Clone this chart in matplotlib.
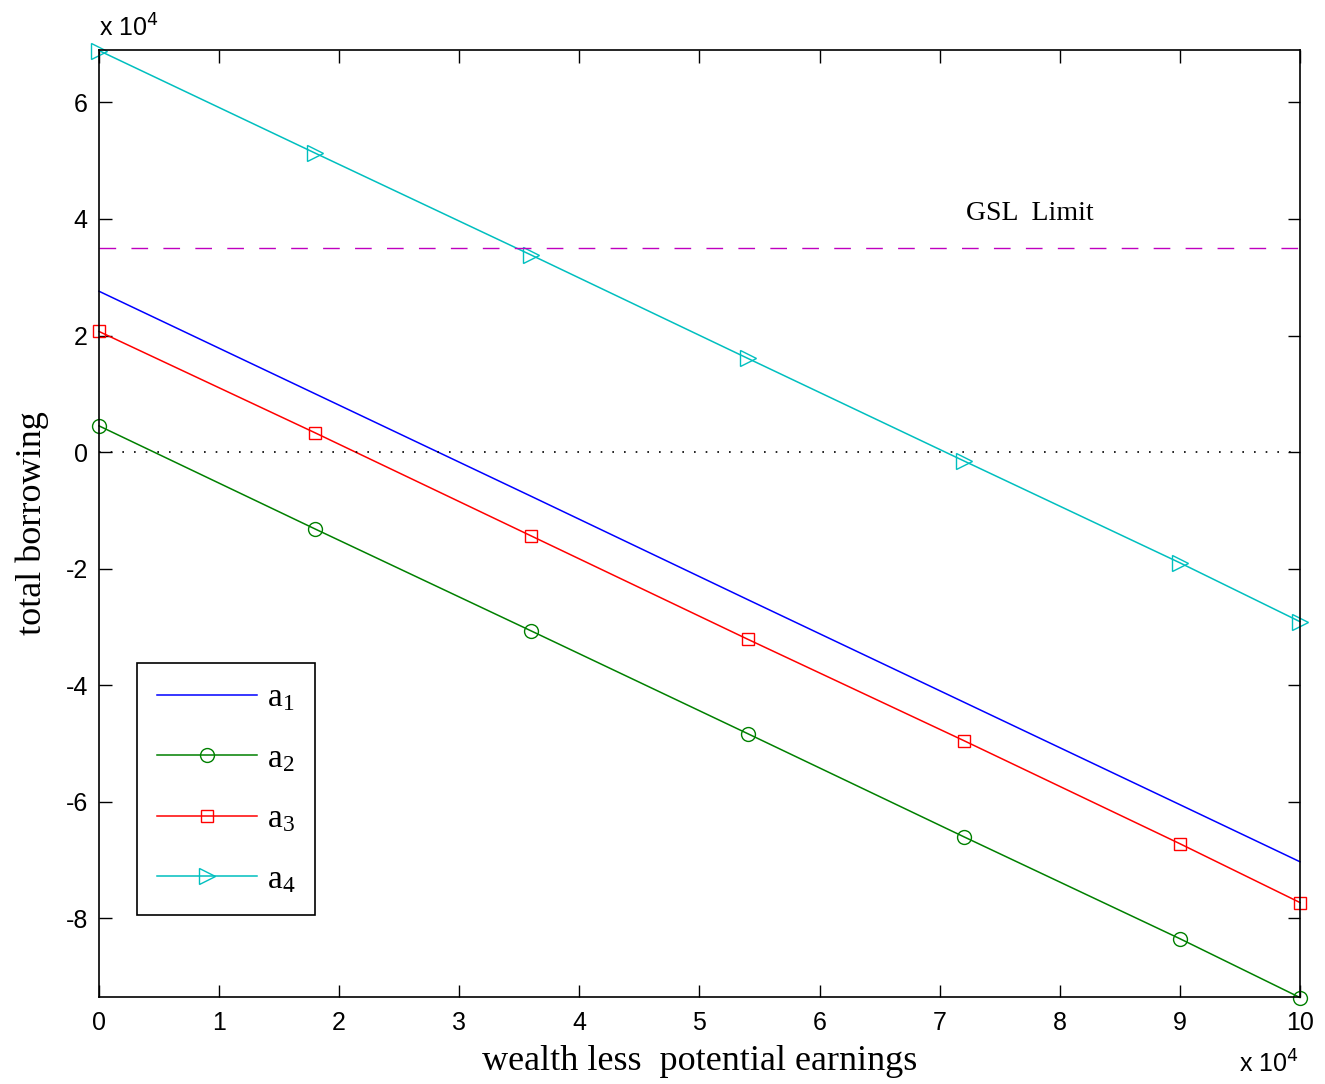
import numpy as np
import matplotlib
matplotlib.use("Agg")
import matplotlib.pyplot as plt

# values in units of 1e4
wealth = [0.0, 1.8, 3.6, 5.4, 7.2, 9.0, 10.0]
a1 = [2.76, 1.0, -0.76, -2.53, -4.29, -6.05, -7.03]
a2 = [0.45, -1.32, -3.07, -4.83, -6.60, -8.35, -9.36]
a3 = [2.07, 0.33, -1.44, -3.21, -4.95, -6.72, -7.73]
a4 = [6.89, 5.13, 3.38, 1.61, -0.15, -1.90, -2.91]
gsl_limit = 3.51
xticks = list(range(0, 11))
yticks = [-8, -6, -4, -2, 0, 2, 4, 6]

plt.rcParams["mathtext.fontset"] = "custom"
plt.rcParams["mathtext.rm"] = "Liberation Serif"
plt.rcParams["mathtext.it"] = "Liberation Serif"
plt.rcParams["axes.unicode_minus"] = False

fig = plt.figure(figsize=(13.25, 10.84), dpi=100)
ax = fig.add_axes([0.0747, 0.0803, 0.9064, 0.8736])

ax.plot(wealth, a1, color="#0000ff", lw=1.1, label=r"$\mathrm{a}_{\mathrm{1}}$",
        clip_on=False)
ax.plot(wealth, a2, color="#008000", lw=1.1, marker="o", ms=10, mfc="none",
        label=r"$\mathrm{a}_{\mathrm{2}}$", clip_on=False)
ax.plot(wealth, a3, color="#ff0000", lw=1.1, marker="s", ms=8, mfc="none",
        label=r"$\mathrm{a}_{\mathrm{3}}$", clip_on=False)
ax.plot(wealth, a4, color="#00bfbf", lw=1.1, marker=">", ms=12, mfc="none",
        label=r"$\mathrm{a}_{\mathrm{4}}$", clip_on=False)

ax.axhline(gsl_limit, color="#bf00bf", lw=1.0, ls=(0, (12, 11)))
ax.axhline(0, color="black", lw=1.2, ls=(0, (1, 6)), xmax=0.993)
ax.text(7.22, 4.1, "GSL  Limit", family="Liberation Serif", fontsize=20,
        va="center", ha="left")

ax.set_xlim(0, 10)
ax.set_ylim(-9.35, 6.9)
ax.set_xticks(xticks)
ax.set_yticks(yticks)
ax.tick_params(direction="in", length=9, width=1, top=True, right=True,
               labelsize=18)
ax.tick_params(axis="x", pad=10)
ax.tick_params(axis="y", pad=8)
for lab in ax.get_xticklabels() + ax.get_yticklabels():
    lab.set_family("Liberation Sans")
for s in ax.spines.values():
    s.set_linewidth(1.2)

ax.set_xlabel("wealth less  potential earnings", family="Liberation Serif",
              fontsize=26, labelpad=7)
ax.set_ylabel("total borrowing", family="Liberation Serif", fontsize=26,
              labelpad=12)

fig.text(0.0747, 0.962, r"x 10$^{4}$", family="Liberation Sans", fontsize=18,
         ha="left", va="bottom", math_fontfamily="dejavusans")
fig.text(0.935, 0.006, r"x 10$^{4}$", family="Liberation Sans", fontsize=18,
         ha="left", va="bottom", math_fontfamily="dejavusans")

leg = ax.legend(loc="lower left", bbox_to_anchor=(0.0316, 0.0866),
                borderaxespad=0,
                prop={"family": "Liberation Serif", "size": 24},
                handlelength=3.0, labelspacing=0.9, borderpad=0.6,
                fancybox=False, edgecolor="black", framealpha=1,
                handletextpad=0.3)
leg.get_frame().set_linewidth(1.2)

fig.savefig("out.png", dpi=100)
